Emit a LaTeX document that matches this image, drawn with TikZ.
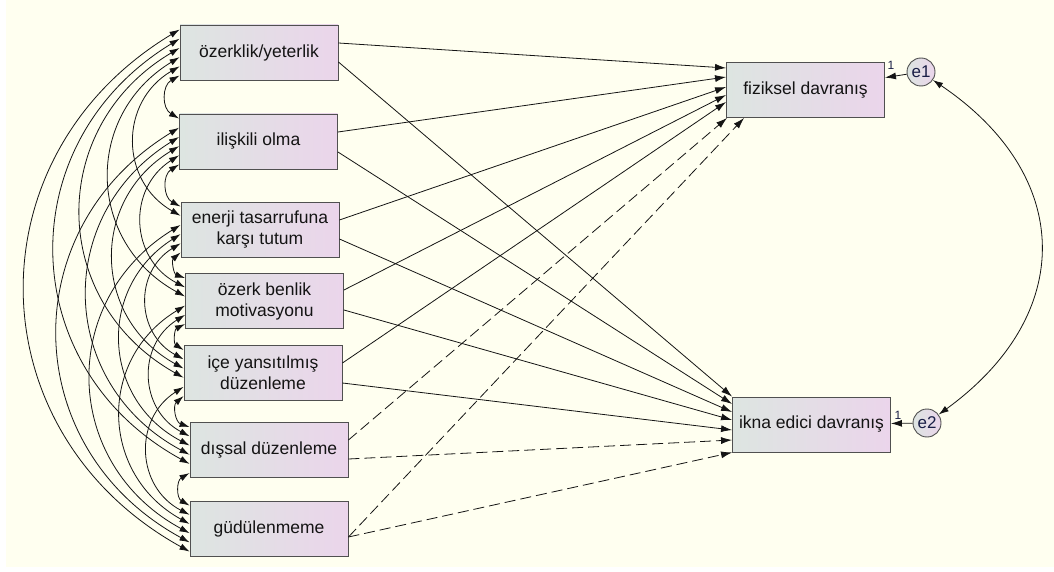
\documentclass[tikz,border=0pt]{standalone}
\usepackage{fontspec}
\setmainfont{Liberation Sans}
\usetikzlibrary{arrows.meta}

\begin{document}
\begin{tikzpicture}[x=1pt, y=1pt, font=\fontsize{17.5}{21}\selectfont]

\definecolor{paper_color}{RGB}{255,255,240}
\definecolor{box_left}{RGB}{221,229,225}
\definecolor{box_right}{RGB}{235,213,235}
\definecolor{box_line}{RGB}{80,80,80}
\definecolor{pathtext}{RGB}{20,20,20}
\definecolor{errtext}{RGB}{25,30,70}

\tikzset{
  var/.style={draw=box_line, line width=0.9pt, left color=box_left, right color=box_right,
    minimum width=158pt, minimum height=55pt, inner sep=0pt, align=center, text=pathtext},
  err/.style={circle, draw=box_line, line width=0.9pt, left color=box_left, right color=box_right,
    minimum size=28pt, inner sep=0pt, text=errtext, font=\fontsize{17}{19}\selectfont},
  reg/.style={-{Latex[length=11pt, width=7pt]}, line width=0.8pt, draw=pathtext},
  dreg/.style={reg, dash pattern=on 11pt off 5pt},
  cov/.style={{Latex[length=10pt, width=6.5pt]}-{Latex[length=10pt, width=6.5pt]}, line width=0.8pt,
    draw=pathtext, bend right=60, looseness=1.2},
  one/.style={text=errtext, font=\fontsize{12}{14}\selectfont, inner sep=0pt},
}

% covariance between two observed variables, ends spread along the left side
\newcommand{\covarc}[2]{%
  \pgfmathtruncatemacro{\sa}{mod(#1-1-#2+14,7)}%
  \pgfmathtruncatemacro{\sb}{mod(#2-1-#1+14,7)}%
  \pgfmathsetmacro{\ya}{5+\sa*9.2}%
  \pgfmathsetmacro{\yb}{5+\sb*9.2}%
  \draw[cov] ([yshift=-\ya pt]b#1.north west) to ([yshift=-\yb pt]b#2.north west);
}

\useasboundingbox (0,0) rectangle (1054,-572);
\fill[white] (0,0) rectangle (1054,-572);
\fill[paper_color] (6,0) rectangle (1054,-567);

\node[var] (b0) at (259,-52.5) {özerklik/yeterlik};
\node[var] (b1) at (258.5,-141.5) {ilişkili olma};
\node[var] (b2) at (260,-229.5) {enerji tasarrufuna\\karşı tutum};
\node[var] (b3) at (264.5,-301) {özerk benlik\\motivasyonu};
\node[var] (b4) at (263,-373) {içe yansıtılmış\\düzenleme};
\node[var] (b5) at (269,-450) {dışsal düzenleme};
\node[var] (b6) at (269,-528.5) {güdülenmeme};

\node[var] (fiz) at (805.5,-90) {fiziksel davranış};
\node[var] (ikna) at (811.5,-424.5) {ikna edici davranış};

\node[err] (e1) at (921,-72) {e1};
\node[err] (e2) at (927,-423) {e2};

\node[one] (w1) at (891,-65) {1};
\node[one] (w2) at (898,-415) {1};

\covarc{0}{1} \covarc{0}{2} \covarc{0}{3} \covarc{0}{4} \covarc{0}{5} \covarc{0}{6}
\covarc{1}{2} \covarc{1}{3} \covarc{1}{4} \covarc{1}{5} \covarc{1}{6}
\covarc{2}{3} \covarc{2}{4} \covarc{2}{5} \covarc{2}{6}
\covarc{3}{4} \covarc{3}{5} \covarc{3}{6}
\covarc{4}{5} \covarc{4}{6}
\covarc{5}{6}

\draw[reg] ([yshift=9.5pt]b0.east) -- ([yshift=22pt]fiz.west);
\draw[reg] ([yshift=-9.5pt]b0.east) -- (ikna.north west);
\draw[reg] ([yshift=9.5pt]b1.east) -- ([yshift=13pt]fiz.west);
\draw[reg] ([yshift=-10.5pt]b1.east) -- ([yshift=20.5pt]ikna.west);
\draw[reg] ([yshift=9.5pt]b2.east) -- ([yshift=3pt]fiz.west);
\draw[reg] ([yshift=-9.5pt]b2.east) -- ([yshift=12.5pt]ikna.west);
\draw[reg] ([yshift=11pt]b3.east) -- ([yshift=-5pt]fiz.west);
\draw[reg] ([yshift=-9pt]b3.east) -- ([yshift=4.5pt]ikna.west);
\draw[reg] ([yshift=10pt]b4.east) -- ([yshift=-12pt]fiz.west);
\draw[reg] ([yshift=-10pt]b4.east) -- ([yshift=-5.5pt]ikna.west);
\draw[dreg] ([yshift=10pt]b5.east) -- ([xshift=1pt]fiz.south west);
\draw[dreg] ([yshift=-9pt]b5.east) -- ([yshift=-15.5pt]ikna.west);
\draw[dreg] ([yshift=-8.5pt]b6.east) -- ([xshift=18pt]fiz.south west);
\draw[dreg] ([yshift=-8.5pt]b6.east) -- (ikna.south west);

\draw[reg] (e1) -- (fiz);
\draw[reg] (e2) -- (ikna);
\draw[cov, bend left=55, looseness=1.3] (e1) to (e2);

\end{tikzpicture}
\end{document}
